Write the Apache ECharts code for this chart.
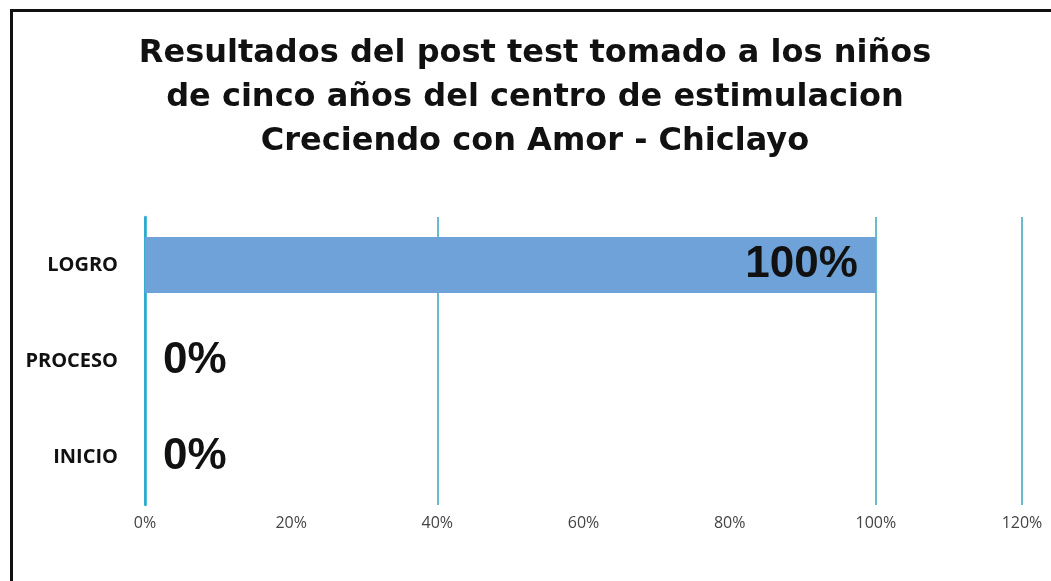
<!DOCTYPE html>
<html>
<head>
<meta charset="utf-8">
<script src="https://cdn.jsdelivr.net/npm/echarts@6/dist/echarts.min.js"></script>
<style>html,body{margin:0;padding:0;background:#fff;}#c{width:1051px;height:581px;}</style>
</head>
<body>
<div id="c"></div>
<script>
var titleText = 'Resultados del post test tomado a los niños\nde cinco años del centro de estimulacion\nCreciendo con Amor - Chiclayo';
var categories = ['INICIO', 'PROCESO', 'LOGRO'];
var values = [0, 0, 100];
var xTicks = [0, 20, 40, 60, 80, 100, 120];

var chart = echarts.init(document.getElementById('c'));
chart.setOption({
  backgroundColor: '#fff',
  animation: false,
  graphic: [{
    type: 'rect', left: 9, top: 8,
    shape: { width: 1200, height: 700 },
    style: { fill: 'none', stroke: '#111', lineWidth: 3 },
    silent: true
  }],
  title: {
    text: titleText,
    left: 530, top: 27, textAlign: 'center',
    textStyle: { fontFamily: 'DejaVu Sans', fontWeight: 'bold', fontSize: 32, lineHeight: 44, color: '#111' }
  },
  grid: { left: 145, right: 29, top: 217, bottom: 76 },
  xAxis: {
    type: 'value', min: 0, max: 120, interval: 20,
    axisLine: { show: false }, axisTick: { show: false },
    axisLabel: {
      formatter: function (v) { return v + '%'; },
      fontFamily: 'Open Sans, Noto Sans', fontSize: 16, color: '#444', margin: 10
    },
    splitLine: {
      show: true,
      lineStyle: { width: 1.5, color: ['#2aa7c9', 'rgba(0,0,0,0)', '#3aa6b8', 'rgba(0,0,0,0)', 'rgba(0,0,0,0)', '#3aa6b8', '#3aa6b8'] }
    }
  },
  yAxis: {
    type: 'category', data: categories,
    axisLine: { show: true, lineStyle: { color: '#22a8d0', width: 2.5 } },
    axisTick: { show: false },
    axisLabel: { fontFamily: 'Open Sans, Noto Sans', fontWeight: 'bold', fontSize: 20, color: '#111', margin: 27 }
  },
  series: [{
    type: 'bar',
    barWidth: 56,
    itemStyle: { color: '#6ea2d8' },
    data: values.map(function (v) {
      return { value: v, label: v > 0 ? { position: 'insideRight', distance: 18 } : { position: 'right', distance: 18 } };
    }),
    label: {
      show: true,
      formatter: function (p) { return p.value + '%'; },
      fontFamily: 'Liberation Sans, Arial', fontWeight: 'bold', fontSize: 44, color: '#111'
    }
  }]
});
</script>
</body>
</html>
